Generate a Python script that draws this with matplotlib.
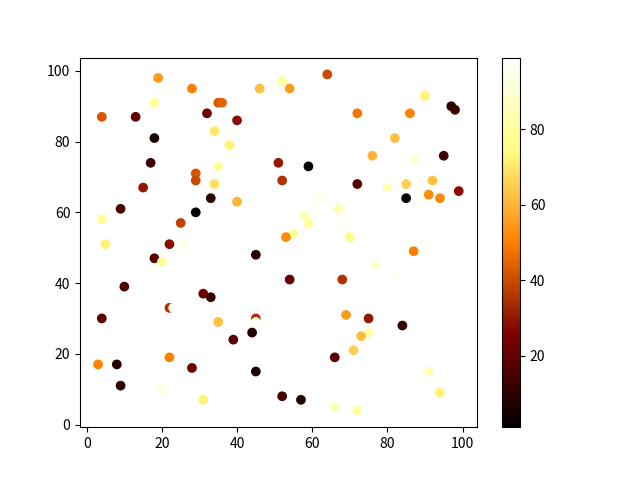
import matplotlib
matplotlib.use("Agg")
import matplotlib.pyplot as plt

plt.rcParams['font.family'] = ['Noto Sans CJK SC', 'DejaVu Sans']

# 散点数据 (x, y, 颜色值)
x = [19, 28, 46, 18, 35, 36, 4, 13, 32, 40,
     34, 18, 38, 17, 35, 29, 29, 34, 15, 33,
     40, 9, 29, 4, 25, 5, 22, 26, 52, 54,
     64, 90, 97, 98, 72, 86, 82, 76, 87, 95,
     51, 59, 52, 72, 80, 85, 92, 85, 91, 94,
     99, 62, 67, 58, 59, 55, 53, 70, 87, 45,
     18, 20, 10, 31, 33, 22, 23, 4, 35, 45,
     45, 44, 39, 22, 3, 8, 28, 45, 9, 20,
     31, 77, 83, 54, 68, 69, 75, 84, 75, 73,
     71, 66, 91, 94, 52, 57, 66, 72]
y = [98, 95, 95, 91, 91, 91, 87, 87, 88, 86,
     83, 81, 79, 74, 73, 71, 69, 68, 67, 64,
     63, 61, 60, 58, 57, 51, 51, 51, 97, 95,
     99, 93, 90, 89, 88, 88, 81, 76, 75, 76,
     74, 73, 69, 68, 67, 68, 69, 64, 65, 64,
     66, 64, 61, 59, 57, 54, 53, 53, 49, 48,
     47, 46, 39, 37, 36, 33, 33, 30, 29, 30,
     29, 26, 24, 19, 17, 17, 16, 15, 11, 10,
     7, 45, 42, 41, 41, 31, 30, 28, 26, 25,
     21, 19, 15, 9, 8, 7, 5, 4]
c = [55, 50, 62, 80, 42, 45, 42, 20, 22, 28,
     70, 5, 72, 12, 80, 42, 40, 68, 30, 10,
     60, 15, 1, 78, 38, 72, 28, 95, 80, 55,
     40, 72, 10, 12, 48, 50, 62, 60, 92, 12,
     30, 2, 35, 18, 85, 65, 63, 3, 52, 52,
     28, 95, 85, 85, 80, 78, 52, 75, 50, 8,
     18, 80, 15, 22, 12, 35, 99, 18, 62, 35,
     97, 8, 18, 50, 50, 8, 22, 5, 10, 92,
     72, 90, 97, 20, 35, 55, 30, 12, 82, 62,
     65, 18, 85, 72, 15, 8, 85, 80]

fig = plt.figure(figsize=(6.4, 4.8), dpi=100)
sc = plt.scatter(x, y, c=c, cmap='afmhot')
plt.colorbar(sc)

plt.savefig('out.png')
